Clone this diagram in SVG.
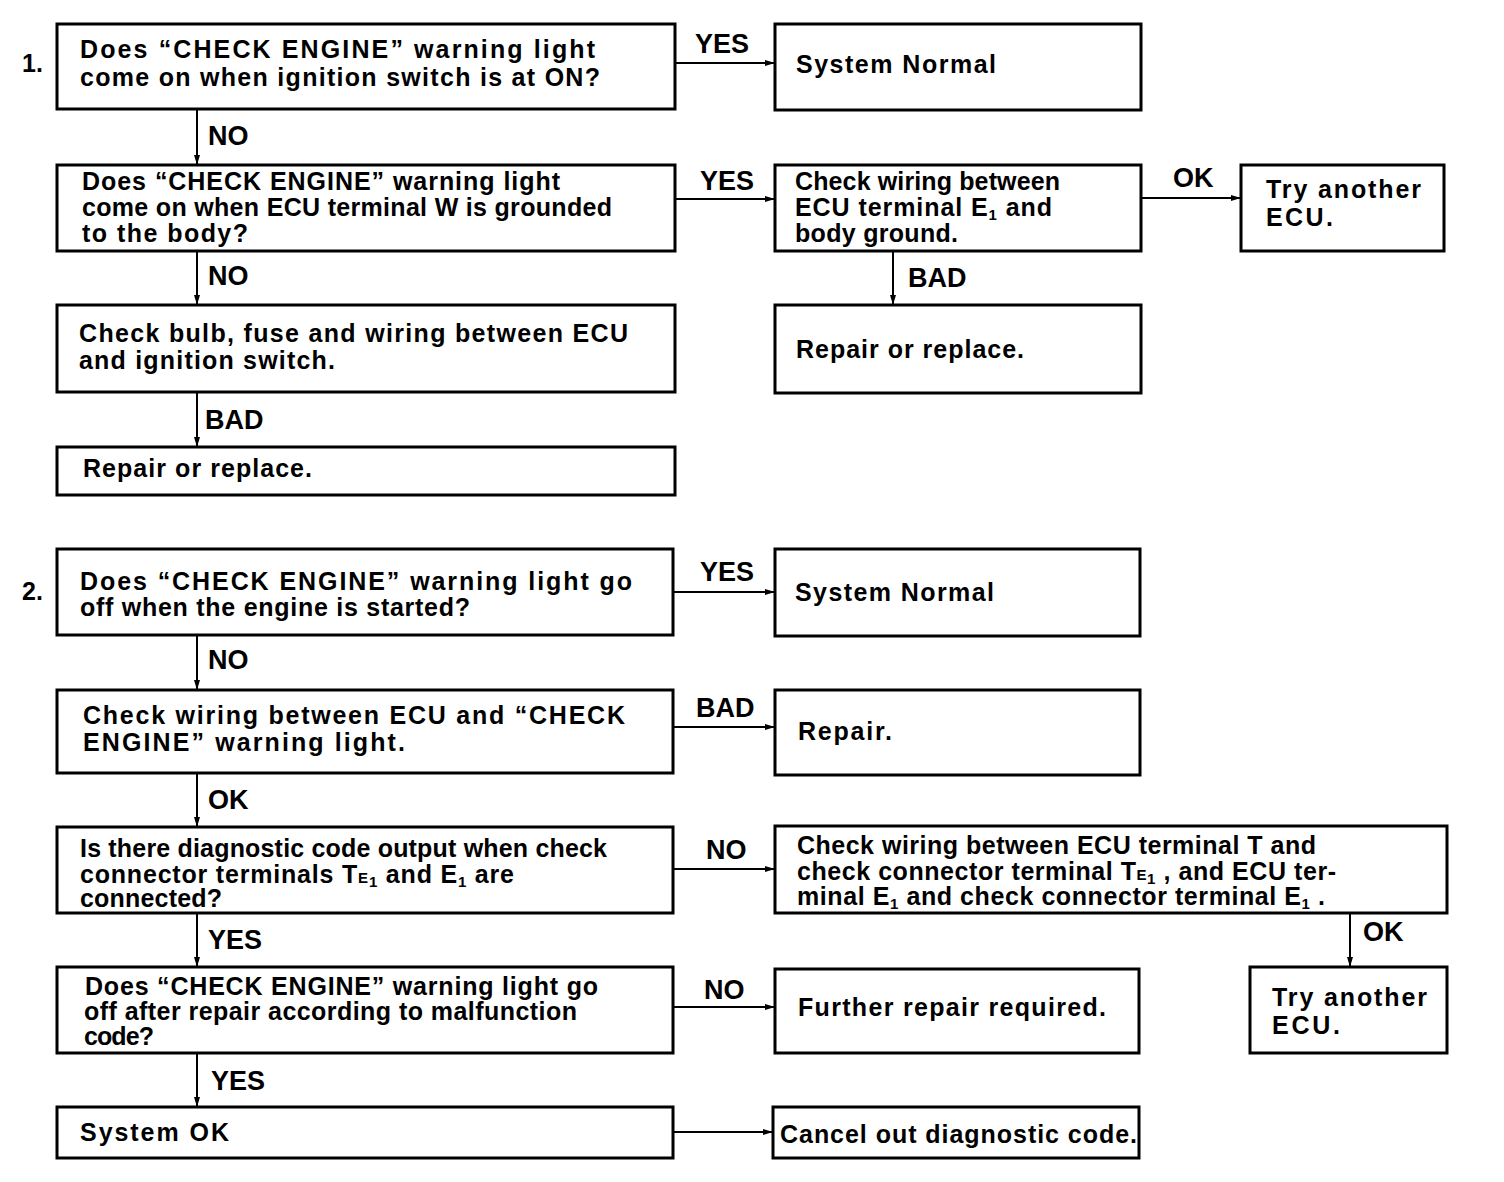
<svg xmlns="http://www.w3.org/2000/svg" width="1504" height="1182" viewBox="0 0 1504 1182">
<style>
.box{fill:#fff;stroke:#000;stroke-width:3}
.t{font-family:"Liberation Sans",Arial,sans-serif;font-weight:bold;font-size:25px;fill:#000}
.l{font-family:"Liberation Sans",Arial,sans-serif;font-weight:bold;font-size:27px;fill:#000}
.c{stroke:#000;stroke-width:2;fill:none;marker-end:url(#ah)}
.sub{font-size:15px}
</style>
<defs>
<marker id="ah" viewBox="0 0 10 6" refX="10" refY="3" markerWidth="10" markerHeight="6" markerUnits="userSpaceOnUse" orient="auto">
<path d="M0,0 L10,3 L0,6 z" fill="#000"/>
</marker>
</defs>
<rect width="1504" height="1182" fill="#fff"/>
<text class="t" x="22" y="72">1.</text>
<text class="t" x="22" y="600">2.</text>
<g id="connectors">
<line class="c" x1="675" y1="63" x2="775" y2="63"/>
<line class="c" x1="197" y1="109" x2="197" y2="165"/>
<line class="c" x1="675" y1="199" x2="775" y2="199"/>
<line class="c" x1="1141" y1="198" x2="1241" y2="198"/>
<line class="c" x1="197" y1="251" x2="197" y2="305"/>
<line class="c" x1="893" y1="251" x2="893" y2="305"/>
<line class="c" x1="197" y1="392" x2="197" y2="447"/>
<line class="c" x1="673" y1="592" x2="775" y2="592"/>
<line class="c" x1="197" y1="635" x2="197" y2="690"/>
<line class="c" x1="673" y1="727" x2="775" y2="727"/>
<line class="c" x1="197" y1="773" x2="197" y2="827"/>
<line class="c" x1="673" y1="869" x2="775" y2="869"/>
<line class="c" x1="1350" y1="913" x2="1350" y2="967"/>
<line class="c" x1="197" y1="913" x2="197" y2="967"/>
<line class="c" x1="673" y1="1007" x2="775" y2="1007"/>
<line class="c" x1="197" y1="1053" x2="197" y2="1107"/>
<line class="c" x1="673" y1="1132" x2="773" y2="1132"/>
<text class="l" x="695" y="53">YES</text>
<text class="l" x="208" y="145">NO</text>
<text class="l" x="700" y="190">YES</text>
<text class="l" x="1173" y="187">OK</text>
<text class="l" x="208" y="285">NO</text>
<text class="l" x="908" y="287">BAD</text>
<text class="l" x="205" y="429">BAD</text>
<text class="l" x="700" y="581">YES</text>
<text class="l" x="208" y="669">NO</text>
<text class="l" x="696" y="717">BAD</text>
<text class="l" x="208" y="809">OK</text>
<text class="l" x="706" y="859">NO</text>
<text class="l" x="1363" y="941">OK</text>
<text class="l" x="208" y="949">YES</text>
<text class="l" x="704" y="999">NO</text>
<text class="l" x="211" y="1090">YES</text>
</g>
<g id="n1"><rect class="box" x="57" y="24" width="618" height="85"/>
<text class="t" x="80" y="58" textLength="515" lengthAdjust="spacing">Does “CHECK ENGINE” warning light</text>
<text class="t" x="80" y="86" textLength="520" lengthAdjust="spacing">come on when ignition switch is at ON?</text></g>
<g id="n2"><rect class="box" x="775" y="24" width="366" height="86"/>
<text class="t" x="796" y="73" textLength="200" lengthAdjust="spacing">System Normal</text></g>
<g id="n3"><rect class="box" x="57" y="165" width="618" height="86"/>
<text class="t" x="82" y="190" textLength="478" lengthAdjust="spacing">Does “CHECK ENGINE” warning light</text>
<text class="t" x="82" y="216" textLength="530" lengthAdjust="spacing">come on when ECU terminal W is grounded</text>
<text class="t" x="82" y="242" textLength="166" lengthAdjust="spacing">to the body?</text></g>
<g id="n4"><rect class="box" x="775" y="165" width="366" height="86"/>
<text class="t" x="795" y="190" textLength="265" lengthAdjust="spacing">Check wiring between</text>
<text class="t" x="795" y="216" textLength="257" lengthAdjust="spacing">ECU terminal E<tspan class="sub" dy="4">1</tspan><tspan dy="-4">  and</tspan></text>
<text class="t" x="795" y="242" textLength="163" lengthAdjust="spacing">body ground.</text></g>
<g id="n5"><rect class="box" x="1241" y="165" width="203" height="86"/>
<text class="t" x="1266" y="198" textLength="155" lengthAdjust="spacing">Try another</text>
<text class="t" x="1266" y="226" textLength="67" lengthAdjust="spacing">ECU.</text></g>
<g id="n6"><rect class="box" x="57" y="305" width="618" height="87"/>
<text class="t" x="79" y="342" textLength="549" lengthAdjust="spacing">Check bulb, fuse and wiring between ECU</text>
<text class="t" x="79" y="369" textLength="256" lengthAdjust="spacing">and ignition switch.</text></g>
<g id="n7"><rect class="box" x="775" y="305" width="366" height="88"/>
<text class="t" x="796" y="358" textLength="228" lengthAdjust="spacing">Repair or replace.</text></g>
<g id="n8"><rect class="box" x="57" y="447" width="618" height="48"/>
<text class="t" x="83" y="477" textLength="229" lengthAdjust="spacing">Repair or replace.</text></g>
<g id="n9"><rect class="box" x="57" y="549" width="616" height="86"/>
<text class="t" x="80" y="590" textLength="552" lengthAdjust="spacing">Does “CHECK ENGINE” warning light go</text>
<text class="t" x="80" y="616" textLength="390" lengthAdjust="spacing">off when the engine is started?</text></g>
<g id="n10"><rect class="box" x="775" y="549" width="365" height="87"/>
<text class="t" x="795" y="601" textLength="199" lengthAdjust="spacing">System Normal</text></g>
<g id="n11"><rect class="box" x="57" y="690" width="616" height="83"/>
<text class="t" x="83" y="724" textLength="542" lengthAdjust="spacing">Check wiring between ECU and “CHECK</text>
<text class="t" x="83" y="751" textLength="322" lengthAdjust="spacing">ENGINE” warning light.</text></g>
<g id="n12"><rect class="box" x="775" y="690" width="365" height="85"/>
<text class="t" x="798" y="740" textLength="94" lengthAdjust="spacing">Repair.</text></g>
<g id="n13"><rect class="box" x="57" y="827" width="616" height="86"/>
<text class="t" x="80" y="857" textLength="527" lengthAdjust="spacing">Is there diagnostic code output when check</text>
<text class="t" x="80" y="883" textLength="434" lengthAdjust="spacing">connector terminals T<tspan class="sub">E</tspan><tspan class="sub" dy="4">1</tspan><tspan dy="-4">  and E</tspan><tspan class="sub" dy="4">1</tspan><tspan dy="-4">  are</tspan></text>
<text class="t" x="80" y="907" textLength="142" lengthAdjust="spacing">connected?</text></g>
<g id="n14"><rect class="box" x="775" y="826" width="672" height="87"/>
<text class="t" x="797" y="854" textLength="519" lengthAdjust="spacing">Check wiring between ECU terminal T and</text>
<text class="t" x="797" y="880" textLength="539" lengthAdjust="spacing">check connector terminal T<tspan class="sub">E</tspan><tspan class="sub" dy="4">1</tspan><tspan dy="-4"> , and ECU ter-</tspan></text>
<text class="t" x="797" y="905" textLength="528" lengthAdjust="spacing">minal E<tspan class="sub" dy="4">1</tspan><tspan dy="-4">  and check connector terminal E</tspan><tspan class="sub" dy="4">1</tspan><tspan dy="-4"> .</tspan></text></g>
<g id="n15"><rect class="box" x="1250" y="967" width="197" height="86"/>
<text class="t" x="1272" y="1006" textLength="155" lengthAdjust="spacing">Try another</text>
<text class="t" x="1272" y="1034" textLength="68" lengthAdjust="spacing">ECU.</text></g>
<g id="n16"><rect class="box" x="57" y="967" width="616" height="86"/>
<text class="t" x="85" y="995" textLength="513" lengthAdjust="spacing">Does “CHECK ENGINE” warning light go</text>
<text class="t" x="84" y="1020" textLength="493" lengthAdjust="spacing">off after repair according to malfunction</text>
<text class="t" x="84" y="1045" textLength="70" lengthAdjust="spacing">code?</text></g>
<g id="n17"><rect class="box" x="775" y="969" width="364" height="84"/>
<text class="t" x="798" y="1016" textLength="308" lengthAdjust="spacing">Further repair required.</text></g>
<g id="n18"><rect class="box" x="57" y="1107" width="616" height="51"/>
<text class="t" x="80" y="1141" textLength="149" lengthAdjust="spacing">System OK</text></g>
<g id="n19"><rect class="box" x="773" y="1107" width="366" height="51"/>
<text class="t" x="780" y="1143" textLength="357" lengthAdjust="spacing">Cancel out diagnostic code.</text></g>
</svg>
